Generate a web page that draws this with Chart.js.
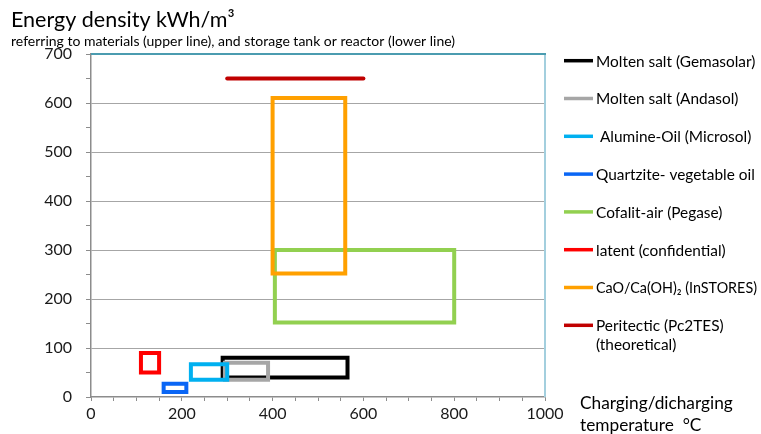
<!DOCTYPE html>
<html><head><meta charset="utf-8">
<script src="https://cdn.jsdelivr.net/npm/chart.js@4/dist/chart.umd.min.js"></script>
<style>html,body{margin:0;padding:0;background:#fff;}#wrap{width:761px;height:434px;}</style>
</head><body><div id="wrap"><canvas id="c" width="761" height="434"></canvas></div>
<script>
// Data
const seriesNames = ["Molten salt (Gemasolar)", "Molten salt (Andasol)", " Alumine-Oil (Microsol)", "Quartzite- vegetable oil", "Cofalit-air (Pegase)", "latent (confidential)", "CaO/Ca(OH)\u2082 (InSTORES)", "Peritectic (Pc2TES)\n(theoretical)"];
const tempMin =   [290, 295, 220, 160, 405, 110, 400, 300];
const tempMax =   [565, 390, 300, 210, 800, 150, 560, 600];
const densLow =   [40, 35, 35, 10, 152, 50, 252, 650];   // storage tank / reactor
const densHigh =  [80, 70, 67, 27, 300, 90, 610, 650];   // materials
const seriesColors = ["#000000", "#A6A6A6", "#00B0F0", "#0A66F5", "#92D050", "#FF0000", "#FFA000", "#C00000"];
const xTickLabels = [0, 200, 400, 600, 800, 1000];
const yTickLabels = [0, 100, 200, 300, 400, 500, 600, 700];

const FONT = "Lato, 'Open Sans', sans-serif";

function shape(i) {
  const x1 = tempMin[i], x2 = tempMax[i], y1 = densLow[i], y2 = densHigh[i];
  if (y1 === y2) return [{x: x1, y: y1}, {x: x2, y: y2}];
  return [{x: x1, y: y1}, {x: x1, y: y2}, {x: x2, y: y2}, {x: x2, y: y1}, {x: x1, y: y1}];
}

const n = seriesNames.length;
const datasets = seriesNames.map((name, i) => ({
  label: name,
  data: shape(i),
  showLine: true,
  borderColor: seriesColors[i],
  backgroundColor: seriesColors[i],
  borderWidth: 4,
  borderJoinStyle: 'miter',
  borderCapStyle: i === n - 1 ? 'round' : 'square',
  pointRadius: 0,
  pointHoverRadius: 0,
  tension: 0,
  fill: false,
  order: n - i
}));

const decor = {
  id: 'decor',
  beforeDatasetsDraw(chart) {
    const ctx = chart.ctx, a = chart.chartArea;
    ctx.save();
    ctx.lineWidth = 2;
    ctx.strokeStyle = '#A3CFDE';
    ctx.beginPath(); ctx.moveTo(a.right, a.top); ctx.lineTo(a.right, a.bottom); ctx.stroke();
    ctx.strokeStyle = '#4B9CB0';
    ctx.beginPath(); ctx.moveTo(a.left, a.top); ctx.lineTo(a.right + 1, a.top); ctx.stroke();
    ctx.restore();
  },
  afterDraw(chart) {
    const ctx = chart.ctx;
    ctx.save();
    ctx.fillStyle = '#000';
    ctx.textBaseline = 'alphabetic';
    ctx.textAlign = 'left';
    ctx.font = "21.5px " + FONT;
    ctx.fillText("Energy density kWh/m\u00B3", 11, 27);
    ctx.font = "14px " + FONT;
    ctx.fillText("referring to materials (upper line), and storage tank or reactor (lower line)", 11, 46);
    ctx.font = "17.3px " + FONT;
    ctx.fillText("Charging/dicharging", 580, 409);
    ctx.fillText("temperature  \u00B0C", 580, 431);
    // legend
    const y0 = 60.7, dy = 37.8;
    ctx.font = "15.4px " + FONT;
    ctx.textBaseline = 'middle';
    chart.data.datasets.forEach((ds, i) => {
      const y = y0 + i * dy;
      ctx.strokeStyle = ds.borderColor;
      ctx.lineWidth = 3.5;
      ctx.lineCap = 'butt';
      ctx.beginPath(); ctx.moveTo(564, y); ctx.lineTo(593, y); ctx.stroke();
      const lines = ds.label.split("\n");
      lines.forEach((t, k) => ctx.fillText(t, 596, y + 1 + k * 19, 161));
    });
    ctx.restore();
  }
};

new Chart(document.getElementById('c'), {
  type: 'scatter',
  data: { datasets },
  options: {
    responsive: false,
    animation: false,
    devicePixelRatio: 1,
    layout: { padding: { left: 0, right: 216, top: 54, bottom: 0 } },
    plugins: { legend: { display: false }, tooltip: { enabled: false }, title: { display: false } },
    scales: {
      x: {
        type: 'linear', min: 0, max: 1000,
        afterFit: s => { s.height = 37; },
        ticks: {
          stepSize: 50, autoSkip: false, maxRotation: 0, padding: 3,
          color: '#1a1a1a', font: { family: FONT, size: 16 },
          callback: v => xTickLabels.includes(v) ? String(v) : ''
        },
        grid: { drawOnChartArea: false, tickLength: 4, tickColor: '#8C8C8C', tickWidth: 1 },
        border: { display: true, color: '#8C8C8C', width: 1.5 }
      },
      y: {
        type: 'linear', min: 0, max: 700,
        afterFit: s => { s.width = 91; },
        ticks: {
          stepSize: 50, autoSkip: false, padding: 14,
          color: '#1a1a1a', font: { family: FONT, size: 16 },
          callback: v => yTickLabels.includes(v) ? String(v) : ''
        },
        grid: {
          color: c => (c.tick && c.tick.value % 100 === 0 && c.tick.value > 0 && c.tick.value < 700) ? '#A6A6A6' : 'rgba(0,0,0,0)',
          lineWidth: 1, tickLength: 5, tickColor: '#8C8C8C', tickWidth: 1
        },
        border: { display: true, color: '#8C8C8C', width: 1.5 }
      }
    }
  },
  plugins: [decor]
});
</script></body></html>
